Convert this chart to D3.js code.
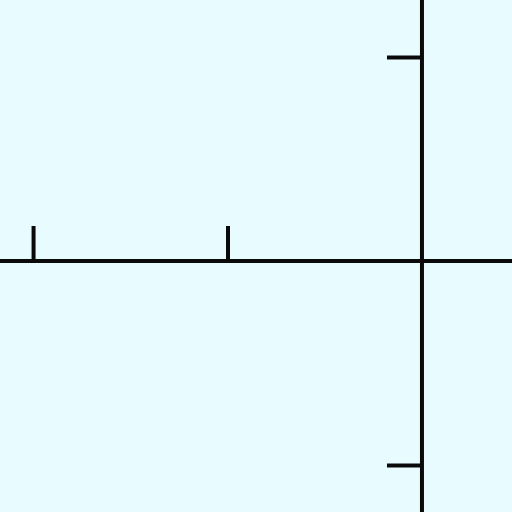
<!DOCTYPE html>
<html><head><meta charset="utf-8">
<script src="https://cdn.jsdelivr.net/npm/d3@7"></script>
<style>html,body{margin:0;padding:0;background:#e8fbff;}svg{display:block;}</style>
</head><body>
<script>
const xTickValues = [-2, -1];
const yTickValues = [1, -1];
const xDomain = [-2.17, 0.463];
const yDomain = [-1.23, 1.279];

const W = 512, H = 512;
const svg = d3.select("body").append("svg").attr("width", W).attr("height", H);
svg.append("rect").attr("width", W).attr("height", H).attr("fill", "#e8fbff");

const x = d3.scaleLinear().domain(xDomain).range([0, W]);
const y = d3.scaleLinear().domain(yDomain).range([H, 0]);

const sw = 4;
// axis lines
svg.append("line").attr("x1", 0).attr("x2", W).attr("y1", y(0)).attr("y2", y(0))
  .attr("stroke", "#0a0a0a").attr("stroke-width", sw);
svg.append("line").attr("x1", x(0)).attr("x2", x(0)).attr("y1", 0).attr("y2", H)
  .attr("stroke", "#0a0a0a").attr("stroke-width", sw);

const gx = svg.append("g").attr("transform", `translate(0,${y(0)})`)
  .call(d3.axisTop(x).tickValues(xTickValues).tickSize(35).tickFormat(""));
const gy = svg.append("g").attr("transform", `translate(${x(0)},0)`)
  .call(d3.axisLeft(y).tickValues(yTickValues).tickSize(35).tickFormat(""));
[gx, gy].forEach(g => {
  g.select(".domain").remove();
  g.selectAll(".tick line").attr("stroke", "#0a0a0a").attr("stroke-width", sw);
});
</script>
</body></html>
